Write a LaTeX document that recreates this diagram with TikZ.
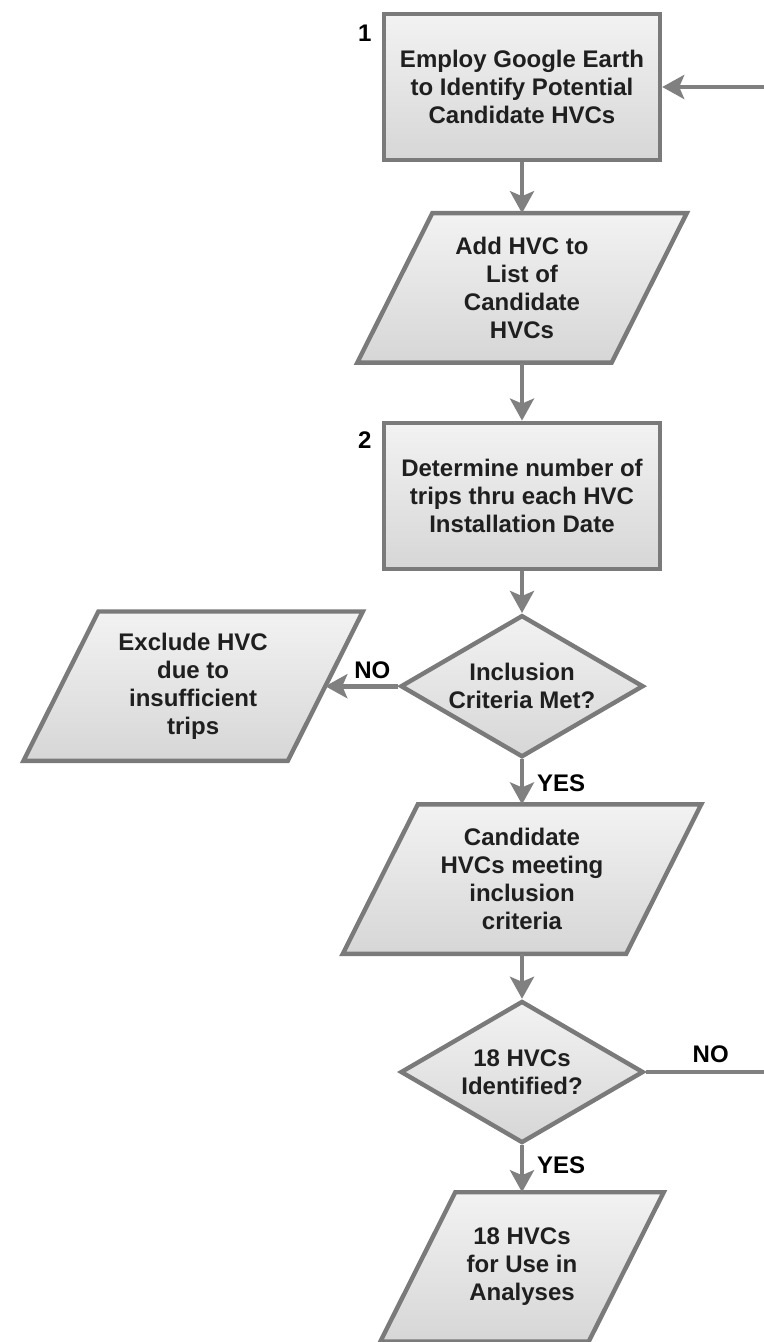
\documentclass[tikz,border=0pt]{standalone}
\usepackage{fontspec}
\setmainfont{Liberation Sans}
\usepackage{tikz}
\usetikzlibrary{arrows.meta,positioning,shapes.geometric,backgrounds}

\begin{document}
\begin{tikzpicture}[
  txt/.style={align=center, font=\fontsize{12}{14}\selectfont\bfseries, text=black!88},
  shell/.style={draw=black!52, line width=2.2pt, top color=black!5, bottom color=black!16},
  procbox/.style={txt, shell, rectangle, minimum width=138pt, minimum height=73pt},
  iobox/.style={txt, rectangle, minimum height=72.5pt, inner sep=0pt, outer sep=1.1pt},
  decision/.style={txt, shell, diamond, aspect=1.69, inner sep=0pt, minimum width=121.5pt, minimum height=71pt},
  flow/.style={draw=black!50, line width=2.4pt, -{Stealth[length=11pt,width=12pt,inset=2.5pt]}},
  numlbl/.style={font=\fontsize{12}{14}\selectfont\bfseries},
  ynlbl/.style={font=\fontsize{12}{14}\selectfont\bfseries}]
\useasboundingbox (0,0) rectangle (382pt,-671pt);
\node[procbox] (find) at (261pt,-43.5pt) {Employ Google Earth\\to Identify Potential\\Candidate HVCs};
\node[iobox, minimum width=125pt, below=25.5pt of find] (addlist) {Add HVC to\\List of\\Candidate\\HVCs};
\node[procbox, below=29pt of addlist] (trips) {Determine number of\\trips thru each HVC\\Installation Date};
\node[decision, below=21pt of trips] (incl) {Inclusion\\Criteria Met?};
\node[iobox, minimum width=130pt, left=36.5pt of incl] (excl) {Exclude HVC\\due to\\insufficient\\trips};
\node[iobox, minimum width=139.5pt, below=22.5pt of incl] (cand) {Candidate\\HVCs meeting\\inclusion\\criteria};
\node[decision, below=22.5pt of cand] (count) {18 HVCs\\Identified?};
\node[iobox, minimum width=102pt, below=23.5pt of count] (final) {18 HVCs\\for Use in\\Analyses};
\begin{scope}[on background layer]
\foreach \n in {addlist,excl,cand,final}
  \draw[shell] ([xshift=-18.75pt]\n.south west) -- ([xshift=-18.75pt]\n.south east)
    -- ([xshift=18.75pt]\n.north east) -- ([xshift=18.75pt]\n.north west) -- cycle;
\end{scope}
\node[numlbl] (n1) at ([xshift=-8.5pt,yshift=-10.5pt]find.north west) {1};
\node[numlbl] (n2) at ([xshift=-8.5pt,yshift=-10pt]trips.north west) {2};
\node[ynlbl] (no1) at ([xshift=-13pt,yshift=8pt]incl.west) {NO};
\node[ynlbl, anchor=west] (yes1) at ([xshift=4pt,yshift=-12pt]incl.south) {YES};
\node[ynlbl] (no2) at ([xshift=32.5pt,yshift=9pt]count.east) {NO};
\node[ynlbl, anchor=west] (yes2) at ([xshift=4pt,yshift=-10pt]count.south) {YES};
\coordinate (rim) at (382pt,0);
\coordinate (loopin) at (find.east -| rim);
\coordinate (loopout) at (count.east -| rim);
\draw[flow] (find) -- (addlist);
\draw[flow] (addlist) -- (trips);
\draw[flow] (trips) -- (incl);
\draw[flow] (incl) -- (excl);
\draw[flow] (incl) -- (cand);
\draw[flow] (cand) -- (count);
\draw[flow] (count) -- (final);
\draw[flow] (loopin) -- (find);
\draw[draw=black!50, line width=2.4pt] (count.east) -- (loopout);
\end{tikzpicture}
\end{document}
